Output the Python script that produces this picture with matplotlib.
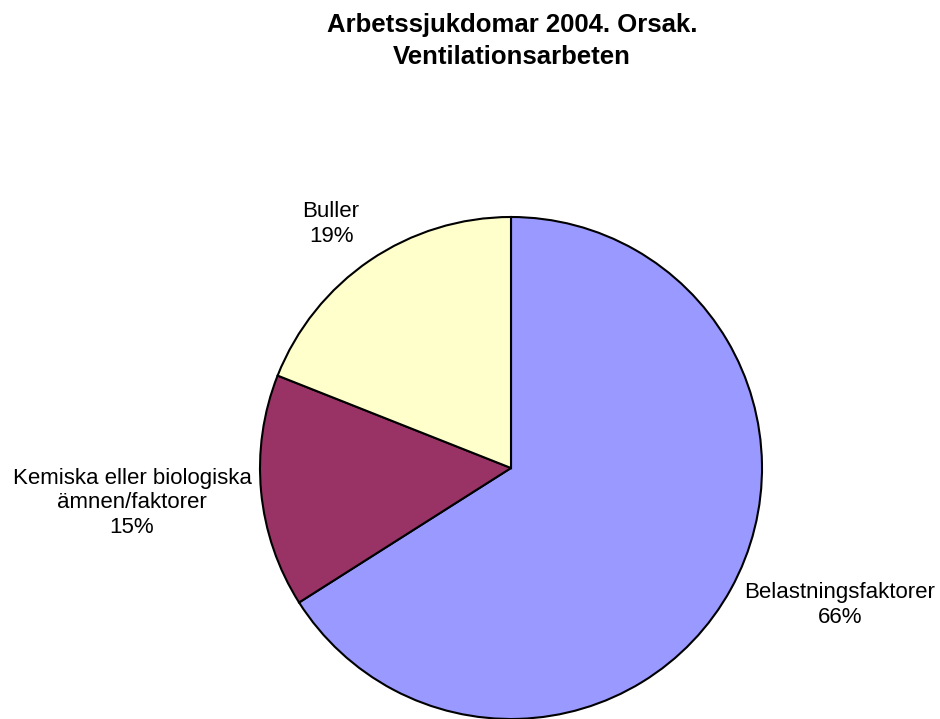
import matplotlib
matplotlib.use("Agg")
import matplotlib.pyplot as plt
import numpy as np

plt.rcParams['font.family'] = ['Liberation Sans', 'DejaVu Sans']

title = "Arbetssjukdomar 2004. Orsak.\nVentilationsarbeten"
categories = ["Belastningsfaktorer", "Kemiska eller biologiska\nämnen/faktorer", "Buller"]
values = [66, 15, 19]
colors = ["#9999FF", "#993366", "#FFFFCC"]

W, H = 940, 719
fig = plt.figure(figsize=(W / 100, H / 100), dpi=100)
cx, cy, r = 511, 468, 251
ax = fig.add_axes([(cx - r) / W, (H - cy - r) / H, 2 * r / W, 2 * r / H])
wedges, _ = ax.pie(values, colors=colors, startangle=90, counterclock=False,
                   radius=1.0, wedgeprops=dict(edgecolor="black", linewidth=1.5))
ax.set_xlim(-1, 1)
ax.set_ylim(-1, 1)
ax.set_aspect("equal")
ax.axis("off")

label_pos = [(1.311, -0.546), (-1.510, -0.139), (-0.717, 0.972)]
for cat, v, (lx, ly) in zip(categories, values, label_pos):
    ax.text(lx, ly, f"{cat}\n{v}%", ha="center", va="center", fontsize=16,
            linespacing=1.2, clip_on=False)

fig.text(512 / W, 1 - 41 / H, title, ha="center", va="center", fontsize=18.5,
         fontweight="bold", linespacing=1.45)

fig.savefig("out.png", dpi=100, facecolor="white")
